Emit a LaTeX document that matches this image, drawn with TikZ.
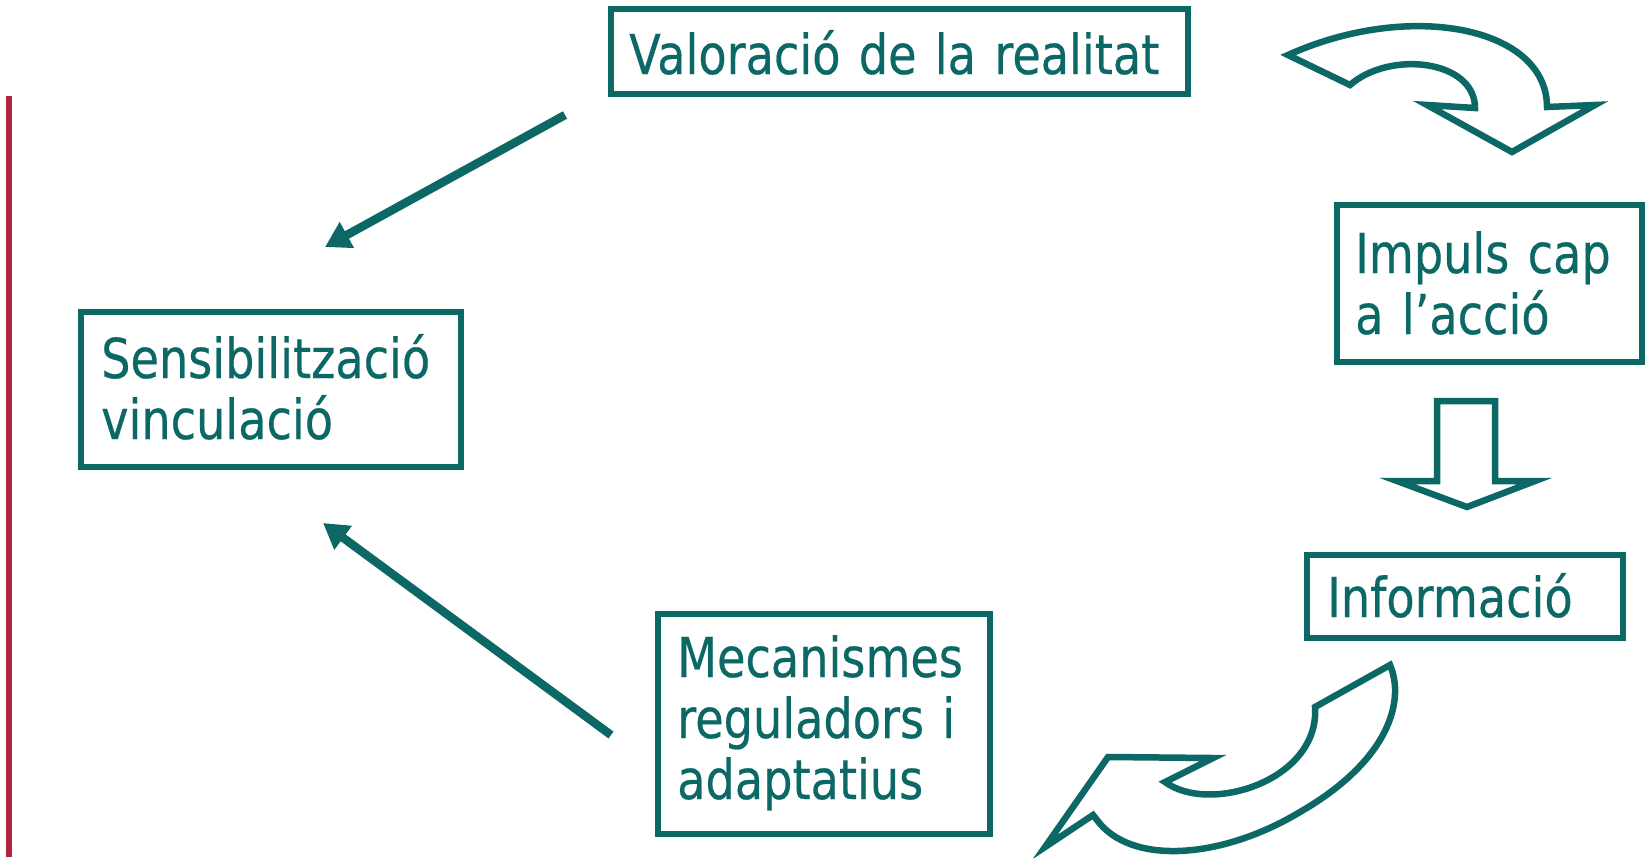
\documentclass[tikz,border=0pt]{standalone}
\usepackage{fontspec}
\setmainfont[FakeStretch=0.84,FakeBold=0.4]{DejaVu Sans}
\usetikzlibrary{arrows.meta}
\definecolor{tealc}{HTML}{0B6865}
\definecolor{redline}{HTML}{B0233F}
\begin{document}
\begin{tikzpicture}[x=1pt,y=-1pt,
  boxnode/.style={draw=tealc, line width=5.5pt, inner sep=0pt, outer sep=0pt, anchor=north west},
  lbl/.style={text=tealc, font=\fontsize{55}{61}\selectfont, inner sep=0pt, anchor=base west, align=left, text width=700pt},
  thinarrow/.style={draw=tealc, line width=8.5pt, -{Triangle[length=25pt,width=28pt]}},
  blockarrow/.style={draw=tealc, line width=6.5pt, line join=miter, fill=white}
]
\useasboundingbox (0,0) rectangle (1645,857);
\fill[white] (0,0) rectangle (1645,857);

% red vertical bar
\draw[redline, line width=6pt] (9,96) -- (9,857);

% boxes
\node[boxnode, minimum width=577pt, minimum height=85pt] (val) at (611,9) {};
\node[boxnode, minimum width=380pt, minimum height=155pt] (sens) at (81,312) {};
\node[boxnode, minimum width=305pt, minimum height=157pt] (imp) at (1337,205) {};
\node[boxnode, minimum width=316pt, minimum height=83pt] (info) at (1307,555) {};
\node[boxnode, minimum width=332pt, minimum height=220pt] (mec) at (658,614) {};

% texts
\node[lbl] (valt) at (629,74) {Valoració de la realitat};
\node[lbl] (senst) at (101,378) {Sensibilització\\vinculació};
\node[lbl] (impt) at (1355,273) {Impuls cap\\a l’acció};
\node[lbl] (infot) at (1327,617) {Informació};
\node[lbl] (mect) at (677,677) {Mecanismes\\reguladors i\\adaptatius};

% straight arrows
\coordinate (a1s) at (565,115);
\coordinate (a1e) at (325,247);
\coordinate (a2s) at (611,735);
\coordinate (a2e) at (323,523);
\draw[thinarrow] (a1s) -- (a1e);
\draw[thinarrow] (a2s) -- (a2e);

% down block arrow
\draw[blockarrow] (1437,401) -- (1495,401) -- (1495,481) -- (1535,481) -- (1467,507) -- (1397,481) -- (1437,481) -- cycle;

% top curved block arrow
\draw[blockarrow] (1288,55) .. controls (1410,0) and (1547,27) .. (1547,107)
  -- (1595,105) -- (1512,152) -- (1427,105) -- (1475,108)
  .. controls (1475,60) and (1390,50) .. (1350,85) -- cycle;

% bottom curved block arrow
\draw[blockarrow] (1390,665) .. controls (1405,700) and (1390,760) .. (1300,812)
  .. controls (1220,860) and (1130,865) .. (1097,820)
  -- (1093,815) -- (1045,847) -- (1108,757) -- (1213,758) -- (1165,782)
  .. controls (1210,815) and (1320,780) .. (1315,707) -- cycle;
\end{tikzpicture}
\end{document}
